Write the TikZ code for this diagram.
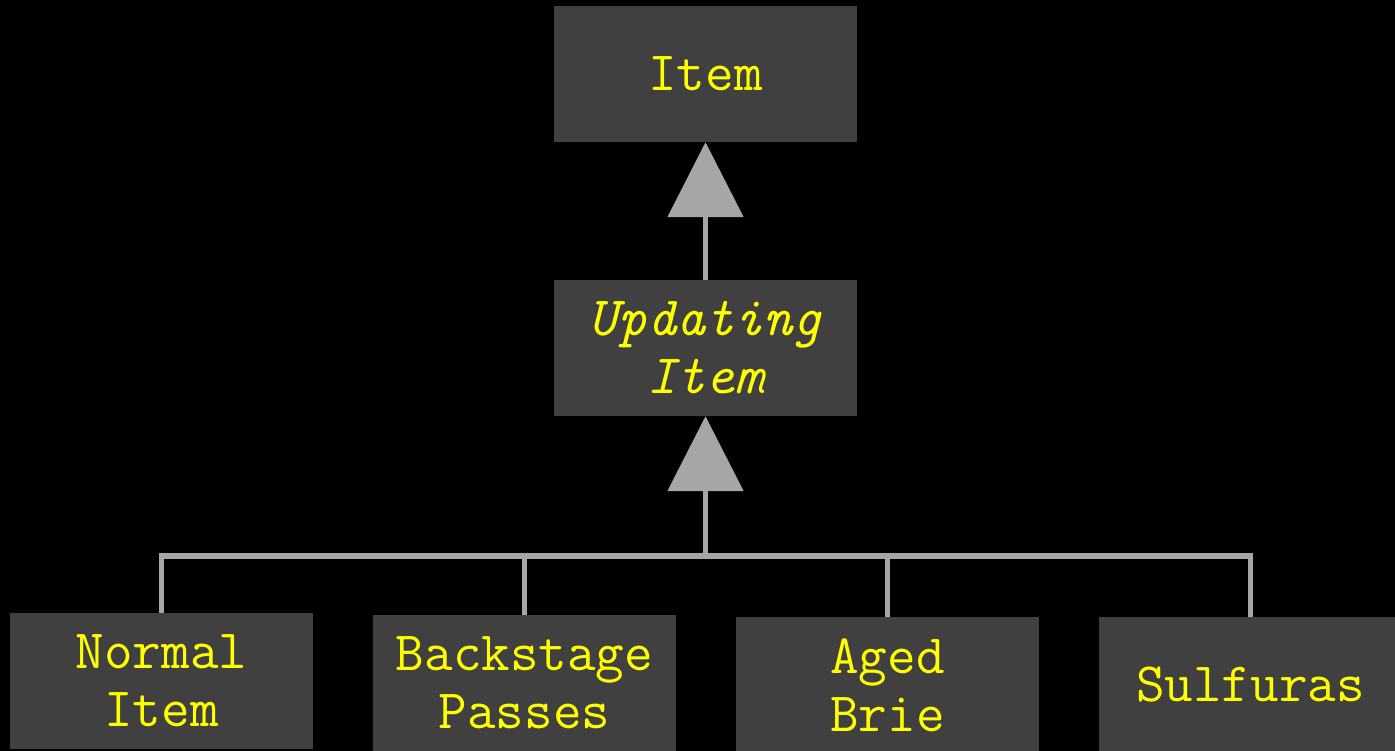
\documentclass[tikz,border=0pt]{standalone}
\usetikzlibrary{arrows.meta}
\definecolor{boxgray}{HTML}{404040}
\definecolor{linegray}{HTML}{A6A6A6}
\definecolor{labelyellow}{HTML}{FFFF00}
\tikzset{
  classbox/.style={rectangle, fill=boxgray, draw=none, inner sep=0pt,
    minimum width=303pt, minimum height=136pt, align=center,
    text=labelyellow, font=\ttfamily\fontsize{55.5}{58}\selectfont},
  link/.style={draw=linegray, line width=5.5pt, line join=miter},
  inherit/.style={link, -{Triangle[width=75pt,length=75pt]}}
}
\begin{document}
\begin{tikzpicture}[x=1pt,y=-1pt]
  \fill[black] (0,0) rectangle (1395,751);
  \useasboundingbox (0,0) rectangle (1395,751);
  \clip (0,0) rectangle (1395,751);

  % class hierarchy boxes
  \node[classbox] (item) at (705.5,74) {Item};
  \node[classbox, font=\ttfamily\itshape\fontsize{55.5}{58}\selectfont] (upd) at (705.5,348) {Updating\\Item};
  \node[classbox] (normal) at (161.5,681) {Normal\\Item};
  \node[classbox] (back) at (524.5,683) {Backstage\\Passes};
  \node[classbox] (aged) at (887.5,685) {Aged\\Brie};
  \node[classbox] (sulf) at (1250.5,685) {Sulfuras};

  % shared bus for the subclasses
  \coordinate (bus) at (705.5,556);

  \draw[link] (normal.north) |- (bus);
  \draw[link] (back.north) |- (bus);
  \draw[link] (aged.north) |- (bus);
  \draw[link] (sulf.north) |- (bus);
  \draw[inherit] (bus) -- (upd.south);
  \draw[inherit] (upd.north) -- (item.south);
\end{tikzpicture}
\end{document}
